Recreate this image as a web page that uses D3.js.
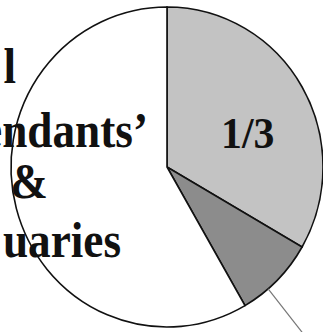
<!DOCTYPE html>
<html>
<head>
<meta charset="utf-8">
<script src="https://cdn.jsdelivr.net/npm/d3@7"></script>
<style>
  body { margin: 0; background: #fff; }
  svg { display: block; }
</style>
</head>
<body>
<div id="chart"></div>
<script>
// slices as twelfths, clockwise from 12 o'clock
var slices = ["share", "part", "rest"]
var values = [4, 1, 7]
var labels = ["1/3", "", ""]
var fills = ["#c3c3c3", "#8c8c8c", "#ffffff"]

// visible part of the side caption, one entry per line
var captionLines = ["l", "endants\u2019", "&", "uaries"]
var captionAnchor = ["end", "end", "middle", "end"]
var captionX = [16, 148, 29, 121]
var captionY = [83, 147, 198, 257]

var width = 323, height = 332
var cx = 167, cy = 167, rx = 156, ry = 160
var squeeze = 0.905

var svg = d3.select("#chart").append("svg")
  .attr("width", width)
  .attr("height", height)

var pie = d3.pie().sort(null).value(function(d) { return d })
var arcs = pie(values)

var arc = d3.arc().innerRadius(0).outerRadius(rx)

var gPie = svg.append("g")
  .attr("transform", "translate(" + cx + "," + cy + ") scale(1," + (ry / rx) + ")")

gPie.selectAll("path")
  .data(arcs)
  .enter()
  .append("path")
    .attr("d", arc)
    .style("fill", function(d, i) { return fills[i] })
    .style("stroke", "#111")
    .style("stroke-width", 1.6)
    .attr("vector-effect", "non-scaling-stroke")

// leader line out of the small slice
var small = arcs[1]
var mid = (small.startAngle + small.endAngle) / 2 + 0.08
var x0 = cx + rx * Math.sin(mid), y0 = cy - ry * Math.cos(mid)
svg.append("line")
  .attr("x1", x0).attr("y1", y0)
  .attr("x2", x0 + 50).attr("y2", y0 + 64)
  .style("stroke", "#777")
  .style("stroke-width", 1.2)

// slice label
var labelArc = d3.arc().innerRadius(0).outerRadius(rx * 1.15)
svg.selectAll(".slabel")
  .data(arcs.filter(function(d, i) { return labels[i] }))
  .enter()
  .append("text")
    .attr("class", "slabel")
    .attr("transform", function(d) {
      var c = labelArc.centroid(d)
      return "translate(" + (cx + c[0] + 3) + "," + (cy + c[1] * (ry / rx) + 27) + ") scale(0.95,1)"
    })
    .attr("text-anchor", "middle")
    .style("font-family", "'Liberation Serif', 'Times New Roman', serif")
    .style("font-weight", "bold")
    .style("font-size", "44px")
    .style("fill", "#111")
    .text(function(d) { return labels[d.index] })

// caption
svg.selectAll(".caption")
  .data(captionLines)
  .enter()
  .append("text")
    .attr("class", "caption")
    .attr("transform", function(d, i) {
      return "translate(" + captionX[i] + "," + captionY[i] + ") scale(" + squeeze + ",1)"
    })
    .attr("text-anchor", function(d, i) { return captionAnchor[i] })
    .style("font-family", "'Liberation Serif', 'Times New Roman', serif")
    .style("font-weight", "bold")
    .style("font-size", "50px")
    .style("fill", "#111")
    .text(function(d) { return d })
</script>
</body>
</html>
